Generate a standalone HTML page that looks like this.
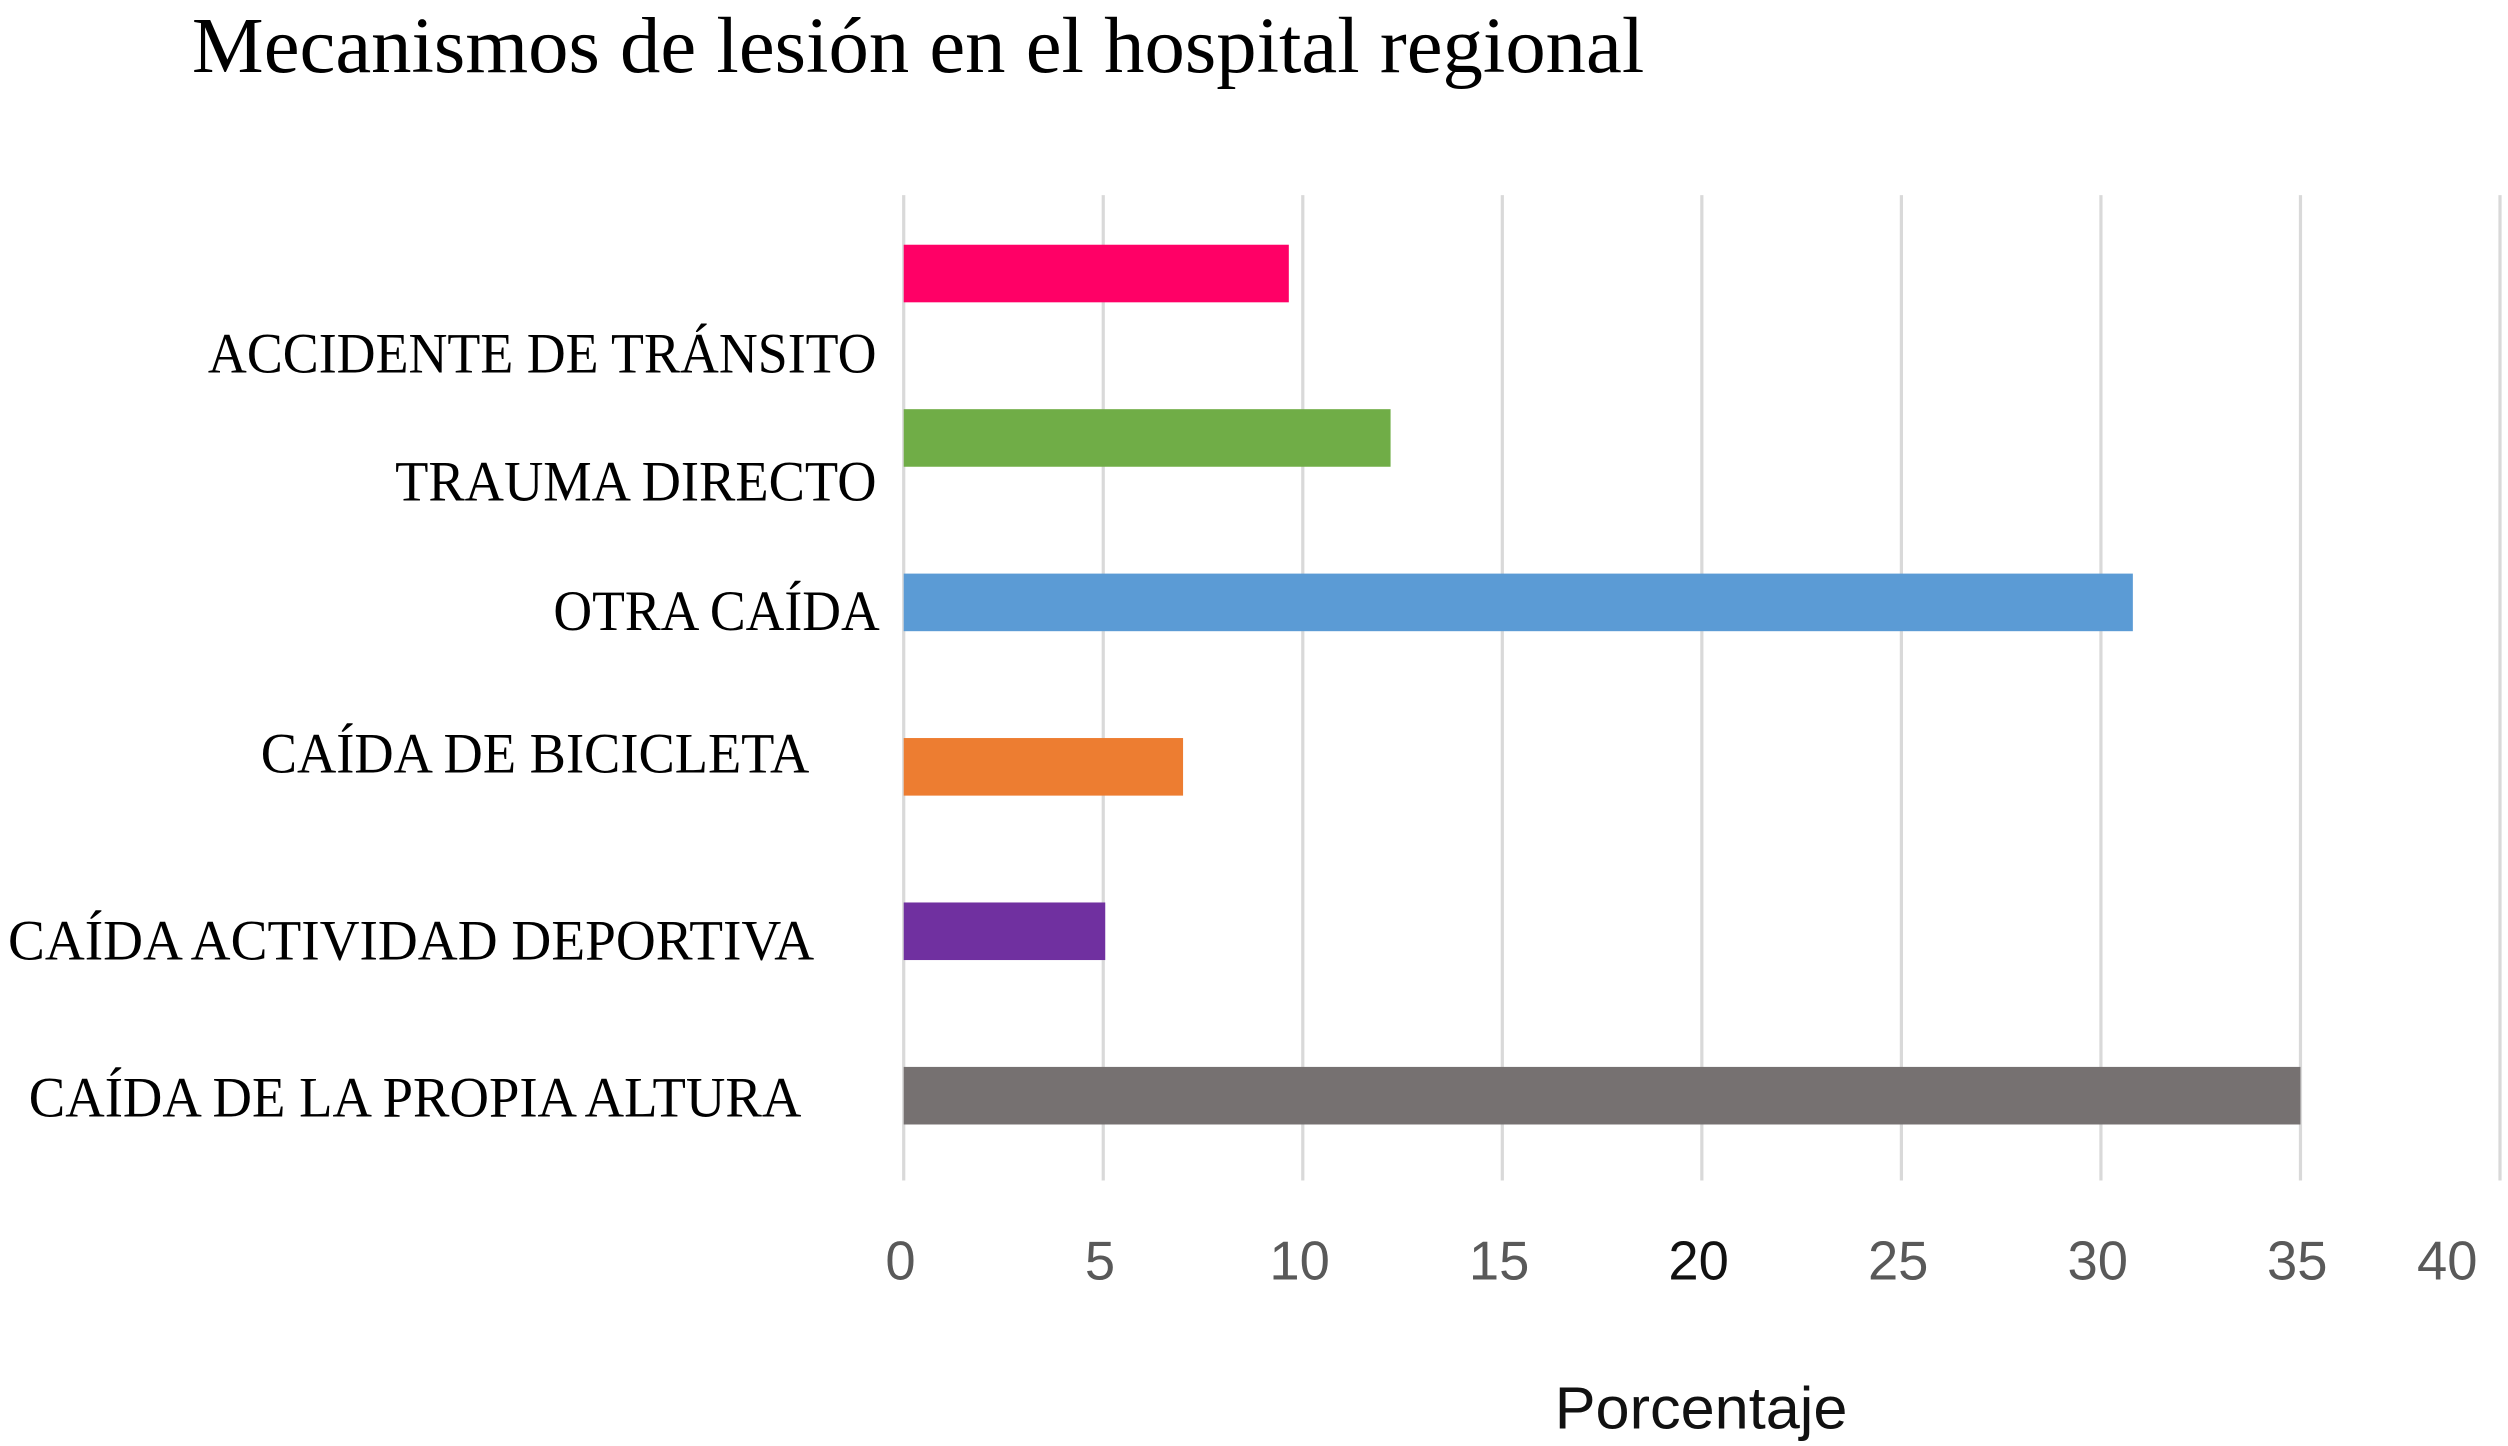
<!DOCTYPE html>
<html><head><meta charset="utf-8"><style>html,body{margin:0;padding:0;background:#fff}svg{display:block}</style></head>
<body>
<svg width="2508" height="1446" viewBox="0 0 1568 904" preserveAspectRatio="none" xmlns="http://www.w3.org/2000/svg">
<text x="120" y="45" font-family="Liberation Serif, serif" font-size="50" textLength="908" lengthAdjust="spacingAndGlyphs">Mecanismos de lesión en el hospital regional</text>
<g id="grid"></g>
<g id="bars"></g>
<g id="ticks"></g>
<g font-family="Liberation Serif, serif" font-size="36" fill="#000">
<text x="130" y="233" textLength="418" lengthAdjust="spacingAndGlyphs">ACCIDENTE DE TRÁNSITO</text>
<text x="247" y="313" textLength="301" lengthAdjust="spacingAndGlyphs">TRAUMA DIRECTO</text>
<text x="346" y="394" textLength="204" lengthAdjust="spacingAndGlyphs">OTRA CAÍDA</text>
<text x="163" y="483" textLength="343" lengthAdjust="spacingAndGlyphs">CAÍDA DE BICICLETA</text>
<text x="5" y="600" textLength="504" lengthAdjust="spacingAndGlyphs">CAÍDA ACTIVIDAD DEPORTIVA</text>
<text x="18" y="698" textLength="483" lengthAdjust="spacingAndGlyphs">CAÍDA DE LA PROPIA ALTURA</text>
</g>
<text x="972" y="893" font-family="Liberation Sans, sans-serif" font-size="37" fill="#111" textLength="183" lengthAdjust="spacingAndGlyphs">Porcentaje</text>
</svg>
<script>
const categories = ["Sin etiqueta", "Trauma directo", "Otra caída", "Caída de bicicleta", "Caída actividad deportiva", "Caída de la propia altura"];
const values = [9.65, 12.2, 30.8, 7.0, 5.05, 35.0];
const colors = ["#ff0066", "#70ad47", "#5b9bd5", "#ed7d31", "#7030a0", "#767171"];
const ticks = [0, 5, 10, 15, 20, 25, 30, 35, 40];
const NS = "http://www.w3.org/2000/svg";
const x0 = 565, x1 = 1563, xmax = 40;
function xs(v){ return x0 + (x1 - x0) * v / xmax; }
const barTop0 = 153, step = 102.8, barH = 36;
function ys(i){ return barTop0 + step * i; }
const grid = document.getElementById('grid');
const tk = document.getElementById('ticks');
ticks.forEach(t => {
  const l = document.createElementNS(NS, 'line');
  
  
  l.setAttribute('x1', xs(t)); l.setAttribute('x2', xs(t));
  l.setAttribute('y1', 122); l.setAttribute('y2', 738);
  l.setAttribute('stroke', '#d9d9d9'); l.setAttribute('stroke-width', 2);
  grid.appendChild(l);
  const tx = document.createElementNS(NS, 'text');
  
  
  tx.setAttribute('x', Math.min(xs(t) - 2, 1530)); tx.setAttribute('y', 800);
  tx.setAttribute('text-anchor', 'middle');
  tx.setAttribute('font-family', 'Liberation Sans, sans-serif');
  tx.setAttribute('font-size', 34);
  tx.setAttribute('fill', t === 20 ? '#111' : '#595959');
  tx.textContent = t;
  tk.appendChild(tx);
});
const bars = document.getElementById('bars');
values.forEach((v, i) => {
  const r = document.createElementNS(NS, 'rect');
  
  
  r.setAttribute('x', xs(0)); r.setAttribute('y', ys(i));
  r.setAttribute('width', xs(v) - xs(0)); r.setAttribute('height', barH);
  r.setAttribute('fill', colors[i]);
  bars.appendChild(r);
});
</script>
</body></html>
